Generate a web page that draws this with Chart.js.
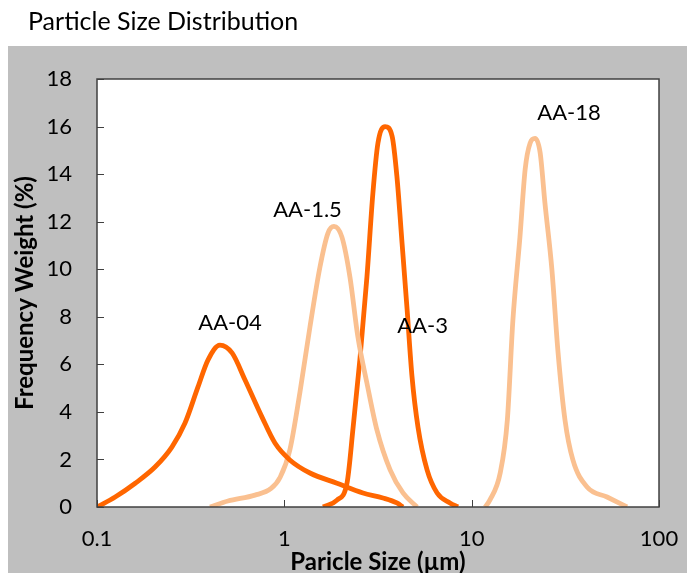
<!DOCTYPE html>
<html>
<head>
<meta charset="utf-8">
<script src="https://cdn.jsdelivr.net/npm/chart.js@4"></script>
<style>
  html, body { margin: 0; padding: 0; background: #fff; overflow: hidden; }
  #wrap { width: 687px; height: 573px; position: relative; }
</style>
</head>
<body>
<div id="wrap"><canvas id="psd"></canvas></div>
<script>
'use strict';

// values
const aa04X = [0.1, 0.125, 0.16, 0.204, 0.251, 0.295, 0.346, 0.391, 0.453, 0.526, 0.617, 0.76, 0.891, 1.07, 1.37, 1.91, 2.63, 3.36, 3.99, 4.3];
const aa04Y = [0, 0.42, 1.0, 1.68, 2.52, 3.53, 5.05, 6.18, 6.81, 6.48, 5.34, 3.78, 2.69, 1.98, 1.43, 1.0, 0.59, 0.38, 0.17, 0];

const aa15X = [0.401, 0.5, 0.697, 0.85, 0.95, 1.07, 1.21, 1.37, 1.55, 1.71, 1.84, 2.03, 2.24, 2.47, 2.76, 3.12, 3.67, 4.3, 5.11];
const aa15Y = [0, 0.25, 0.5, 0.78, 1.25, 2.4, 4.8, 7.57, 10.1, 11.52, 11.8, 11.35, 9.67, 7.15, 5.21, 3.24, 1.56, 0.59, 0];

const aa3X = [1.61, 1.91, 2.16, 2.33, 2.53, 2.76, 2.97, 3.16, 3.45, 3.76, 3.99, 4.25, 4.52, 4.8, 5.17, 5.78, 6.54, 7.66, 8.45];
const aa3Y = [0, 0.29, 1.0, 3.36, 6.18, 9.67, 13.2, 15.3, 16.0, 15.6, 13.9, 11.1, 8.33, 5.51, 3.36, 1.56, 0.59, 0.17, 0];

const aa18X = [11.8, 12.5, 14.2, 15.5, 16.6, 18.1, 19.3, 20.5, 21.8, 23.2, 24.6, 26.8, 28.9, 31.5, 34.7, 41.3, 52.8, 67.5];
const aa18Y = [0, 0.29, 1.43, 3.65, 7.86, 11.35, 14.2, 15.3, 15.5, 14.9, 12.8, 10.0, 6.52, 3.65, 1.98, 0.84, 0.42, 0];

const seriesNames = ['AA-04', 'AA-1.5', 'AA-3', 'AA-18'];
const labelX = [0.513, 1.33, 5.47, 33.1];
const labelY = [7.74, 12.51, 7.61, 16.59];

const xTicks = [0.1, 1, 10, 100];
const yTicks = [0, 2, 4, 6, 8, 10, 12, 14, 16, 18];

const dark = '#ff6600';
const light = '#fac090';
const FONT = 'Lato, Calibri, sans-serif';

const pts = (xs, ys) => xs.map((x, i) => ({ x, y: ys[i] }));

const mkSet = (label, xs, ys, color) => ({
  label,
  data: pts(xs, ys),
  borderColor: color,
  backgroundColor: color,
  borderWidth: 4.8,
  pointRadius: 0,
  cubicInterpolationMode: 'monotone',
  fill: false,
});

// grey frame, white plot area, title, curve names, inside ticks
const framePlugin = {
  id: 'frame',
  beforeDraw(chart) {
    const { ctx, chartArea: a } = chart;
    ctx.save();
    ctx.fillStyle = '#bfbfbf';
    ctx.fillRect(8, 46, chart.width - 8, chart.height - 46);
    ctx.fillStyle = '#ffffff';
    ctx.fillRect(a.left, a.top, a.right - a.left, a.bottom - a.top);
    ctx.fillStyle = '#000000';
    ctx.font = '25px ' + FONT;
    ctx.textBaseline = 'alphabetic';
    ctx.fillText('Particle Size Distribution', 28, 30);
    ctx.restore();
  },
  afterDatasetsDraw(chart) {
    const { ctx } = chart;
    const xs = chart.scales.x, ys = chart.scales.y;
    ctx.save();
    ctx.fillStyle = '#000000';
    ctx.font = '22px ' + FONT;
    ctx.textAlign = 'center';
    ctx.textBaseline = 'middle';
    seriesNames.forEach((n, i) => {
      ctx.fillText(n, xs.getPixelForValue(labelX[i]), ys.getPixelForValue(labelY[i]));
    });
    ctx.restore();
  },
  afterDraw(chart) {
    const { ctx, chartArea: a } = chart;
    const xs = chart.scales.x, ys = chart.scales.y;
    ctx.save();
    ctx.strokeStyle = '#404040';
    ctx.lineWidth = 1.5;
    ctx.strokeRect(a.left, a.top, a.right - a.left, a.bottom - a.top);
    ctx.lineWidth = 1;
    ctx.beginPath();
    yTicks.forEach((v) => {
      const py = Math.round(ys.getPixelForValue(v)) + 0.5;
      ctx.moveTo(a.left, py);
      ctx.lineTo(a.left + 7, py);
    });
    xTicks.forEach((v) => {
      const px = Math.round(xs.getPixelForValue(v)) + 0.5;
      ctx.moveTo(px, a.bottom);
      ctx.lineTo(px, a.bottom - 7);
    });
    ctx.stroke();
    ctx.restore();
  },
};

new Chart(document.getElementById('psd'), {
  type: 'line',
  data: {
    datasets: [
      mkSet('AA-04', aa04X, aa04Y, dark),
      mkSet('AA-1.5', aa15X, aa15Y, light),
      mkSet('AA-3', aa3X, aa3Y, dark),
      mkSet('AA-18', aa18X, aa18Y, light),
    ],
  },
  options: {
    responsive: true,
    maintainAspectRatio: false,
    animation: false,
    layout: { padding: { left: 0, top: 79, right: 28, bottom: 0 } },
    plugins: { legend: { display: false }, tooltip: { enabled: false } },
    scales: {
      x: {
        type: 'logarithmic',
        min: 0.1,
        max: 100,
        afterBuildTicks: (s) => { s.ticks = xTicks.map((v) => ({ value: v })); },
        afterFit: (s) => { s.height = 66; s.paddingLeft = 0; s.paddingRight = 0; },
        grid: { display: false, drawTicks: false },
        border: { display: false },
        ticks: {
          autoSkip: false,
          maxRotation: 0,
          padding: 19,
          color: '#000',
          font: { family: FONT, size: 22 },
          callback: (v) => String(v),
        },
        title: {
          display: true,
          text: 'Paricle Size (µm)',
          color: '#000',
          font: { family: FONT, size: 24, weight: 'bold', lineHeight: 1 },
          padding: { top: 0, bottom: -1 },
        },
      },
      y: {
        min: 0,
        max: 18,
        afterFit: (s) => { s.width = 97; s.paddingTop = 0; s.paddingBottom = 0; },
        grid: { display: false, drawTicks: false },
        border: { display: false },
        ticks: {
          stepSize: 2,
          padding: 25,
          color: '#000',
          font: { family: FONT, size: 22 },
        },
        title: {
          display: true,
          text: 'Frequency Weight (%)',
          color: '#000',
          font: { family: FONT, size: 24, weight: 'bold', lineHeight: 1 },
          padding: { top: 13, bottom: 0 },
        },
      },
    },
  },
  plugins: [framePlugin],
});
</script>
</body>
</html>
